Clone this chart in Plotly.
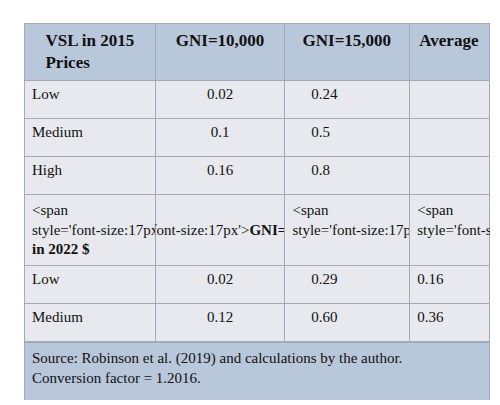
import plotly.graph_objects as go

header = ["VSL in 2015<br>Prices", "GNI=10,000", "GNI=15,000", "Average"]
row_labels = ["Low", "Medium", "High", "VSL in 2022 $", "Low", "Medium", "High"]
gni_a = ["0.02", "0.1", "0.16", "GNI=12,016", "0.02", "0.12", "0.19"]
gni_b = ["0.24", "0.5", "0.8", "GNI=18,024", "0.29", "0.60", "0.96"]
avg = ["", "", "", "Average", "0.16", "0.36", "0.58"]
footer = "Source: Robinson et al. (2019) and calculations by the author.<br>Conversion factor = 1.2016."

HEAD = "#b9c7db"
BODY = "#e7e9ee"
LINE = "#a3abb8"
bold_row = 3

def fmt(col, pad=""):
    return [f"<span style='font-size:17px'><b>{v}</b></span>" if i == bold_row else (pad + v if v else v)
            for i, v in enumerate(col)]

cols = [fmt(row_labels), fmt(gni_a), fmt(gni_b, "\u00a0\u00a0\u00a0\u00a0\u00a0"), fmt(avg)]
fills = [[BODY] * len(row_labels) for _ in cols]

W, H = 500, 405
x0, x1 = 16 / W, 482 / W

fig = go.Figure()
fig.add_trace(go.Table(
    domain=dict(x=[x0, x1], y=[1 - 334 / H, 1 - 15 / H]),
    columnwidth=[132, 129, 125, 80],
    header=dict(values=[f"<b>{h}</b>" for h in header], fill_color=HEAD,
                line_color=LINE, height=51, align="center",
                font=dict(family="Liberation Serif", size=17, color="#111")),
    cells=dict(values=cols, fill_color=fills, line_color=LINE, height=38,
               align=["left", "center", "left", "left"],
               font=dict(family="Liberation Serif", size=15, color="#111")),
))
fig.add_trace(go.Table(
    domain=dict(x=[x0, x1], y=[1 - 393 / H, 1 - 334 / H]),
    header=dict(values=[footer], fill_color=HEAD, line_color=LINE, height=58,
                align="left", font=dict(family="Liberation Serif", size=15, color="#111")),
    cells=dict(values=[[]]),
))
fig.update_layout(width=W, height=H, margin=dict(l=0, r=0, t=0, b=0),
                  paper_bgcolor="white")
fig.write_html("out.html")
